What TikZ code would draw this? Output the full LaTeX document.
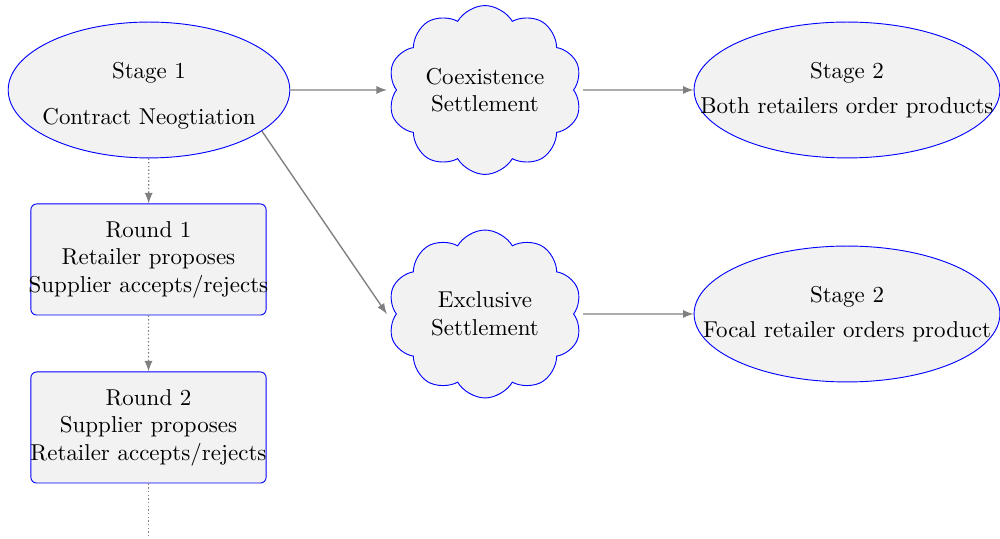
\documentclass[tikz,border=0pt]{standalone}
\usepackage{tikz}
\usetikzlibrary{arrows,shapes.geometric,shapes.symbols}

\tikzset{
  stagenode/.style={ellipse, draw=blue, fill=gray!10, inner xsep=-1cm, inner ysep=0pt,
    minimum height=2.08cm, align=center},
  roundnode/.style={rectangle, rounded corners=2.5pt, draw=blue, fill=gray!10,
    inner xsep=-0.5cm, inner ysep=0pt, minimum width=3.60cm, minimum height=1.70cm, align=center},
  settlenode/.style={cloud, cloud puffs=10, cloud puff arc=120, aspect=1.15, draw=blue,
    fill=gray!10, inner sep=0pt, outer sep=3.5pt, minimum width=2.97cm, minimum height=2.57cm,
    align=center},
  flowarrow/.style={->, >=latex, gray, semithick},
  roundline/.style={gray, semithick, densely dotted},
  roundarrow/.style={roundline, ->, >=latex}
}

\begin{document}
\begin{tikzpicture}[x=0.0153cm, y=-0.0153cm]
      \useasboundingbox (0,0) rectangle (1000,539);

      % first stage and its rounds
      \node[stagenode, minimum width=4.31cm] (stage1) at (149,90)
        {\rule{0pt}{12pt}Stage 1\\[8pt]Contract Neogtiation};
      \node[roundnode] (round1) at (148.5,259.5)
        {Round 1\\Retailer proposes\\Supplier accepts/rejects};
      \node[roundnode] (round2) at (148.5,427.5)
        {Round 2\\Supplier proposes\\Retailer accepts/rejects};
      \coordinate (roundmore) at (148.5,539);

      % settlements
      \node[settlenode] (coexist) at (485,90) {Coexistence\\Settlement};
      \node[settlenode] (exclusive) at (485,314) {Exclusive\\Settlement};

      % second stage
      \node[stagenode, minimum width=4.68cm] (stage2a) at (847,90)
        {Stage 2\\[3pt]Both retailers order products};
      \node[stagenode, minimum width=4.68cm] (stage2b) at (847,314)
        {Stage 2\\[3pt]Focal retailer orders product};

      \draw[roundarrow] (stage1) -- (round1);
      \draw[roundarrow] (round1) -- (round2);
      \draw[roundline] (round2) -- (roundmore);

      \draw[flowarrow] (stage1) -- (coexist.west);
      \draw[flowarrow] (stage1.-20) -- (exclusive.west);
      \draw[flowarrow] (coexist.east) -- (stage2a);
      \draw[flowarrow] (exclusive.east) -- (stage2b);
\end{tikzpicture}
\end{document}
